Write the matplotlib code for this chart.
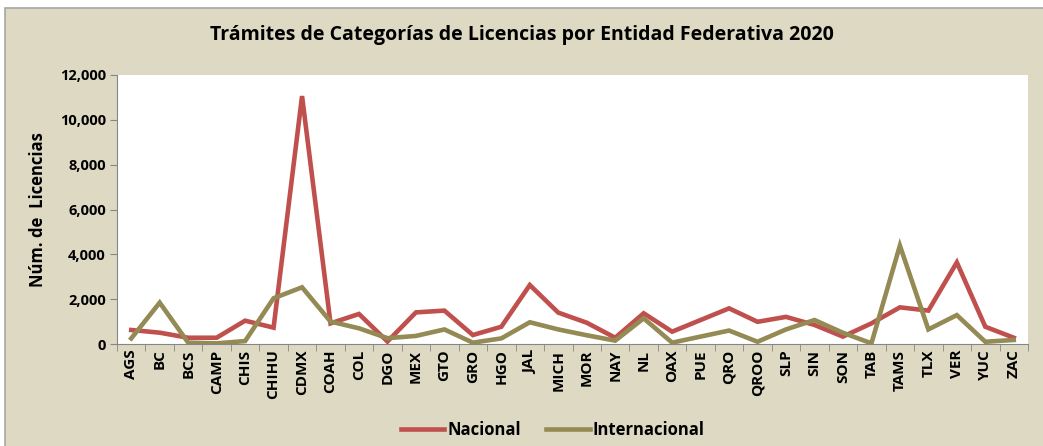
import matplotlib
matplotlib.use('Agg')
import matplotlib.pyplot as plt
from matplotlib.patches import Rectangle
from matplotlib.ticker import FuncFormatter, FixedLocator
import numpy as np

plt.rcParams['font.family'] = ['Open Sans', 'DejaVu Sans']

estados = ['AGS', 'BC', 'BCS', 'CAMP', 'CHIS', 'CHIHU', 'CDMX', 'COAH', 'COL', 'DGO',
           'MEX', 'GTO', 'GRO', 'HGO', 'JAL', 'MICH', 'MOR', 'NAY', 'NL', 'OAX',
           'PUE', 'QRO', 'QROO', 'SLP', 'SIN', 'SON', 'TAB', 'TAMS', 'TLX', 'VER',
           'YUC', 'ZAC']
nacional = [625, 505, 280, 280, 1040, 730, 11060, 920, 1340, 110,
            1410, 1490, 400, 770, 2630, 1400, 950, 280, 1370, 550,
            1070, 1590, 990, 1210, 850, 330, 920, 1635, 1490, 3640,
            770, 280]
internacional = [250, 1845, 60, 30, 130, 2040, 2530, 1000, 700, 260,
                 360, 650, 60, 250, 970, 650, 390, 150, 1145, 60,
                 330, 600, 100, 650, 1070, 500, 30, 4390, 650, 1290,
                 100, 180]

rojo = '#C0504D'
olivo = '#948A54'
beige = '#DDD9C3'
gris = '#868686'

fig = plt.figure(figsize=(10.43, 4.46), dpi=100)
fig.patch.set_facecolor('white')
fondo = Rectangle((5 / 1043, -0.05), 1.1, (446 - 8) / 446 + 0.05,
                  transform=fig.transFigure, facecolor=beige,
                  edgecolor='#A6A6A6', linewidth=1.2, zorder=-10)
fig.patches.append(fondo)

ax = fig.add_axes([117 / 1043, 1 - 344 / 446, (1028 - 117) / 1043, (344 - 75) / 446])
ax.set_facecolor('white')

x = np.arange(len(estados))
ax.plot(x, nacional, color=rojo, lw=3.3, label='Nacional', solid_joinstyle='miter')
ax.plot(x, internacional, color=olivo, lw=3.3, label='Internacional', solid_joinstyle='miter')

ax.set_xlim(-0.5, len(estados) - 0.5)
ax.set_ylim(0, 12000)
ax.set_yticks(range(0, 12001, 2000))
ax.yaxis.set_major_formatter(FuncFormatter(lambda v, p: '{:,.0f}'.format(v)))

ax.set_xticks(x)
ax.set_xticklabels(estados, rotation=90, fontsize=11, fontweight='bold')
ax.tick_params(axis='x', which='major', length=0, pad=4)
ax.xaxis.set_minor_locator(FixedLocator(np.arange(-0.5, len(estados), 1)))
ax.tick_params(axis='x', which='minor', length=5, color=gris, direction='out')
ax.tick_params(axis='y', length=5, color=gris, labelsize=10.5, pad=3)
for lab in ax.get_yticklabels():
    lab.set_fontweight('bold')

for s in ['top', 'right']:
    ax.spines[s].set_visible(False)
for s in ['left', 'bottom']:
    ax.spines[s].set_color(gris)

ax.set_ylabel('Núm. de  Licencias', fontsize=12, fontweight='bold', labelpad=9)

fig.text(0.5, 1 - 35 / 446, 'Trámites de Categorías de Licencias por Entidad Federativa 2020',
         ha='center', va='center', fontsize=14, fontweight='bold')

leg = fig.legend(loc='center', bbox_to_anchor=(553 / 1043, 1 - 430 / 446), ncol=2,
                 frameon=False, prop={'size': 12, 'weight': 'bold'},
                 handlelength=2.6, columnspacing=1.5, handletextpad=0.2)

fig.savefig('out.png', dpi=100, facecolor=fig.get_facecolor())
